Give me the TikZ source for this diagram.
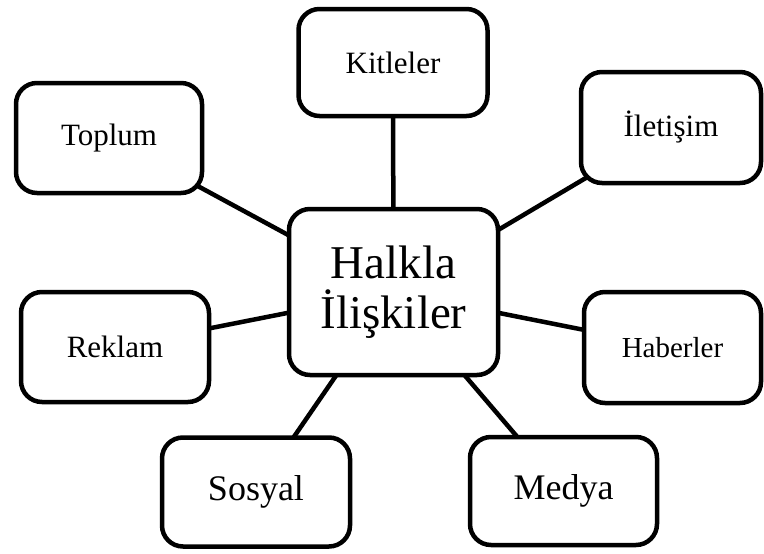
\documentclass[tikz,border=0pt]{standalone}
\usepackage{fontspec}
\setmainfont{Liberation Serif}
\usetikzlibrary{backgrounds}

\begin{document}
\begin{tikzpicture}[x=1pt,y=-1pt,
	kutu/.style={draw, line width=4.5pt, rounded corners=21pt, fill=white, inner sep=0pt,
		minimum width=188pt, minimum height=110pt, font=\fontsize{31}{36}\selectfont},
	bag/.style={line width=4.5pt}]
	\useasboundingbox (0,0) rectangle (764,554);
	\node[kutu, minimum width=209pt, minimum height=166pt, align=center,
		font=\fontsize{47}{50}\selectfont] (merkez) at (393.5,292) {Halkla\\İlişkiler};
	\node[kutu, minimum width=189pt, minimum height=107pt] (kitleler) at (393,62.5) {Kitleler};
	\node[kutu, minimum width=186pt] (toplum) at (109,138) {Toplum};
	\node[kutu, minimum width=180pt, minimum height=111pt] (iletisim) at (671,127.5) {İletişim};
	\node[kutu] (reklam) at (115,347) {Reklam};
	\node[kutu, minimum width=177pt, minimum height=111pt, font=\fontsize{29}{34}\selectfont] (haberler) at (672.5,347.5) {Haberler};
	\node[kutu, minimum height=109pt, font=\fontsize{36}{42}\selectfont] (sosyal) at (256,492) {Sosyal};
	\node[kutu, minimum width=187pt, minimum height=108pt, font=\fontsize{36}{42}\selectfont] (medya) at (563.5,491) {Medya};
	% baglantilar
	\begin{scope}[on background layer]
		\foreach \n in {kitleler,toplum,iletisim,reklam,haberler,sosyal,medya}
			\draw[bag] (merkez.center) -- (\n.center);
	\end{scope}
\end{tikzpicture}
\end{document}
